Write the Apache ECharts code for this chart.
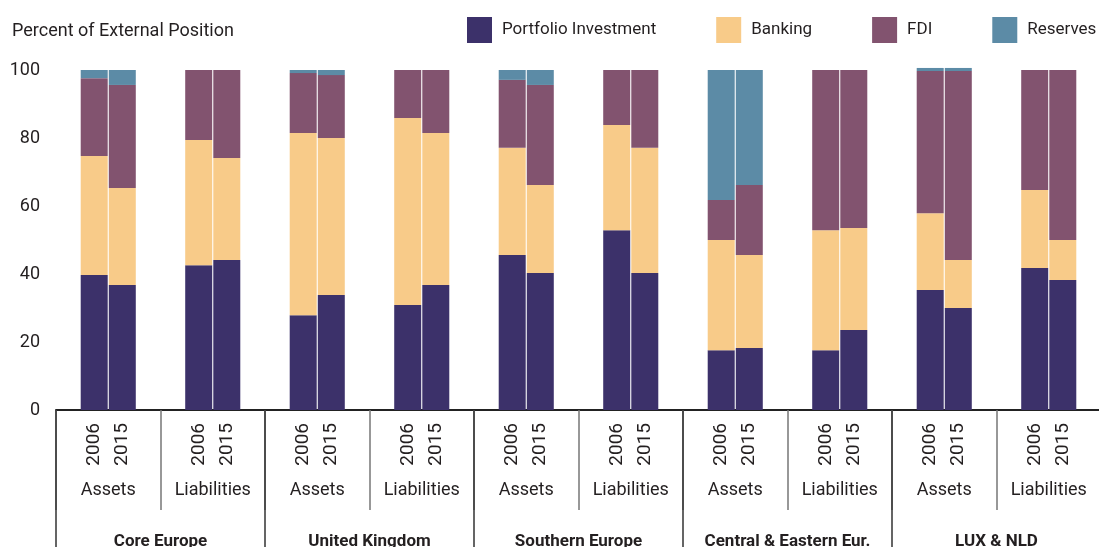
<!DOCTYPE html>
<html>
<head>
<meta charset="utf-8">
<script src="https://cdn.jsdelivr.net/npm/echarts@6/dist/echarts.min.js"></script>
<style>
  html, body { margin: 0; padding: 0; background: #fff; }
  #main { width: 1099px; height: 547px; }
</style>
</head>
<body>
<div id="main"></div>
<script>
// sub-groups (one per pair of bars) and the regions they belong to
var subgroups = ['Assets', 'Liabilities', 'Assets', 'Liabilities', 'Assets', 'Liabilities',
                 'Assets', 'Liabilities', 'Assets', 'Liabilities'];
var groups = ['Core Europe', 'United Kingdom', 'Southern Europe', 'Central & Eastern Eur.', 'LUX & NLD'];
var years = ['2006', '2015'];
var yTicks = [0, 20, 40, 60, 80, 100];

// percent of external position, one value per sub-group
var portfolio2006 = [39.7, 42.6, 27.9, 30.9, 45.6, 52.9, 17.6, 17.6, 35.3, 41.8];
var portfolio2015 = [36.8, 44.1, 33.8, 36.8, 40.3, 40.3, 18.2, 23.5, 30.0, 38.2];
var banking2006   = [35.0, 36.8, 53.6, 55.0, 31.5, 30.9, 32.4, 35.3, 22.6, 22.9];
var banking2015   = [28.5, 30.0, 46.2, 44.7, 25.9, 36.8, 27.4, 30.0, 14.1, 11.8];
var fdi2006       = [22.9, 20.6, 17.6, 14.1, 20.0, 16.2, 11.8, 47.1, 41.8, 35.3];
var fdi2015       = [30.3, 25.9, 18.5, 18.5, 29.4, 22.9, 20.6, 46.5, 55.6, 50.0];
var reserves2006  = [2.4, 0, 0.9, 0, 2.9, 0, 38.2, 0, 0.9, 0];
var reserves2015  = [4.4, 0, 1.5, 0, 4.4, 0, 33.8, 0, 0.9, 0];

var names = ['Portfolio Investment', 'Banking', 'FDI', 'Reserves'];
var colors = ['#3c316a', '#f8cb89', '#82536f', '#5c8ba6'];

var font = "Roboto, 'Open Sans', sans-serif";
var ink = '#231f20';

var chartDom = document.getElementById('main');
var myChart = echarts.init(chartDom);

function bar(name, idx, stack, values) {
  return {
    type: 'bar',
    name: name,
    stack: stack,
    barWidth: 27,
    barGap: '4%',
    clip: false,
    itemStyle: { color: colors[idx], borderWidth: 0 },
    data: values
  };
}

var series = [
  bar(names[0], 0, 'y2006', portfolio2006),
  bar(names[1], 1, 'y2006', banking2006),
  bar(names[2], 2, 'y2006', fdi2006),
  bar(names[3], 3, 'y2006', reserves2006),
  bar(names[0], 0, 'y2015', portfolio2015),
  bar(names[1], 1, 'y2015', banking2015),
  bar(names[2], 2, 'y2015', fdi2015),
  bar(names[3], 3, 'y2015', reserves2015)
];

var option = {
  backgroundColor: '#fff',
  animation: false,
  textStyle: { fontFamily: font, color: ink },
  title: {
    text: 'Percent of External Position',
    left: 12,
    top: 22,
    padding: 0,
    textStyle: { fontFamily: font, fontSize: 18, fontWeight: 'normal', color: ink }
  },
  legend: {
    data: names,
    left: 467,
    top: 17,
    width: 700,
    padding: 0,
    icon: 'rect',
    itemWidth: 25,
    itemHeight: 26,
    itemGap: 60,
    selectedMode: false,
    textStyle: { fontFamily: font, fontSize: 17, color: ink, padding: [7, 0, 0, 5] }
  },
  grid: { left: 56, right: -2, top: 70, bottom: 137, outerBoundsMode: 'none', containLabel: false },
  yAxis: {
    type: 'value',
    min: yTicks[0],
    max: yTicks[yTicks.length - 1],
    interval: 20,
    axisLine: { show: false },
    axisTick: { show: false },
    splitLine: { show: false },
    axisLabel: { fontFamily: font, fontSize: 18, color: ink, margin: 16 }
  },
  xAxis: [
    {
      type: 'category',
      data: subgroups,
      position: 'bottom',
      axisLine: { show: true, lineStyle: { color: '#222', width: 2 } },
      axisTick: { show: true, length: 100, lineStyle: { color: '#777', width: 1.5 } },
      axisLabel: { interval: 0, margin: 71, fontFamily: font, fontSize: 18, color: ink }
    },
    {
      type: 'category',
      data: subgroups,
      position: 'bottom',
      axisLine: { show: false },
      axisTick: { show: false },
      axisLabel: {
        interval: 0,
        rotate: 90,
        margin: 13,
        lineHeight: 28,
        fontFamily: font,
        fontSize: 19,
        color: ink,
        formatter: function () { return years.join('\n'); }
      }
    },
    {
      type: 'category',
      data: groups,
      position: 'bottom',
      axisLine: { show: false },
      axisTick: { show: true, length: 140, lineStyle: { color: '#333', width: 1.5 } },
      axisLabel: { interval: 0, margin: 123, fontFamily: font, fontSize: 17, fontWeight: 'bold', color: ink }
    }
  ],
  series: series
};

option && myChart.setOption(option);
</script>
</body>
</html>
